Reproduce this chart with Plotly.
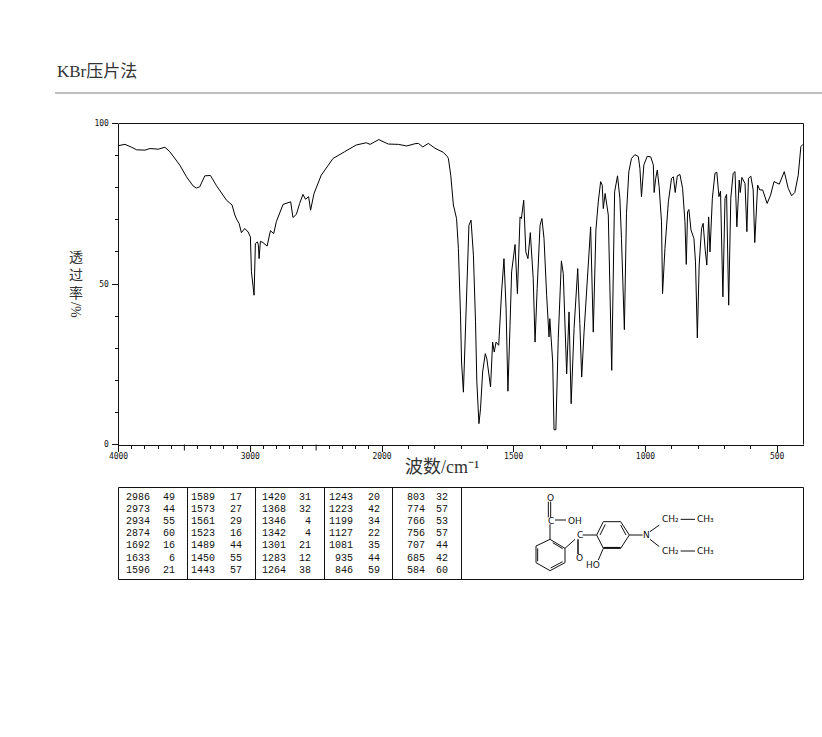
import plotly.graph_objects as go

W, H = 822, 737

# Spectrum, 4000-2000 cm-1 section
wn_high = [4001,3951,3900,3862,3799,3761,3698,3648,3610,3585,3534,3484,3433,3408,3383,3345,3302,3256,3218,3180,3138,3117,3100,3085,3067,3042,3016,2999,2991,2981,2971,2961,2946,2938,2933,2923,2903,2872,2847,2822,2802,2751,2693,2676,2650,2625,2600,2580,2557,2542,2516,2461,2372,2284,2196,2120,2090,2024,2000]
t_high = [93.1,93.5,92.6,91.8,91.7,92.2,92.0,92.6,91.2,89.7,87.0,83.4,80.5,79.9,80.3,83.7,83.8,80.6,78.5,76.1,74.6,71.5,69.9,68.9,66.0,67.3,66.2,64.7,53.8,50.6,46.5,62.6,63.1,62.1,57.9,63.3,62.9,61.8,66.6,65.7,69.4,74.8,75.6,70.7,71.7,75.1,77.9,76.4,77.2,73.0,78.2,83.9,89.1,91.2,93.3,94.0,93.5,95.0,94.5]

# Spectrum, 2000-400 cm-1 section
wn_low = [2000,1976,1938,1906,1875,1862,1845,1824,1799,1767,1752,1748,1739,1729,1717,1710,1702,1698,1691,1685,1679,1670,1662,1653,1645,1640,1632,1626,1618,1608,1602,1595,1588,1580,1574,1567,1557,1546,1537,1529,1522,1514,1508,1495,1486,1476,1471,1462,1454,1446,1437,1426,1419,1411,1400,1393,1385,1375,1366,1363,1352,1347,1340,1331,1319,1312,1299,1290,1282,1271,1257,1249,1242,1233,1223,1208,1198,1188,1179,1170,1164,1160,1153,1141,1128,1117,1106,1097,1091,1080,1072,1063,1053,1040,1027,1021,1015,1006,993,980,970,967,961,955,948,939,935,926,913,901,894,887,879,869,859,850,845,840,835,827,816,810,803,796,787,781,773,767,760,755,746,736,729,721,715,706,698,692,684,676,667,660,653,644,640,634,622,615,609,600,591,585,574,566,555,538,525,512,492,473,458,445,433,420,410,402]
t_low = [94.5,93.6,93.5,93.0,93.7,93.8,92.7,93.8,92.3,91.0,89.7,89.1,83.9,74.6,70.4,61.1,40.3,25.7,16.3,31.9,50.7,68.3,69.9,59.0,38.2,19.5,6.5,11.1,22.6,28.3,26.7,21.5,17.9,31.9,28.8,31.9,30.9,47.5,57.9,42.3,16.6,37.1,53.8,62.3,47.0,70.9,70.4,76.1,60.0,57.9,66.0,51.7,31.9,48.6,68.3,70.4,64.2,46.5,33.5,39.2,25.7,4.6,4.6,33.0,57.2,53.3,22.0,41.3,12.7,36.1,54.8,37.7,21.0,35.0,47.0,67.8,35.0,66.8,75.6,81.9,80.8,73.5,78.2,71.5,23.1,78.7,83.7,76.7,64.2,35.8,72.0,85.0,89.1,90.3,89.7,86.0,77.2,87.1,89.8,89.6,87.1,78.5,82.9,85.5,80.3,69.4,47.0,61.0,75.6,82.9,83.4,78.5,83.7,84.1,79.8,69.4,56.1,72.5,73.2,66.8,64.2,56.9,33.2,55.9,67.3,68.9,60.5,55.9,70.9,60.0,76.7,84.5,84.8,77.2,78.9,46.0,76.7,77.9,43.4,76.7,84.5,85.0,67.8,82.4,78.5,83.2,81.3,66.3,82.9,83.6,79.3,62.9,80.8,79.3,79.3,75.1,77.7,81.9,81.1,85.0,79.8,77.5,78.5,83.9,92.8,93.5]

# Axis ticks
x_ticks_high = [4000,3000]
x_labels_high = ["4000","3000"]
x_unlabelled_high = [3500,2500]
x_minor_high = [3900,3800,3700,3600,3400,3300,3200,3100,2900,2800,2700,2600,2400,2300,2200,2100]
x_ticks_low = [2000,1500,1000,500]
x_labels_low = ["2000","1500","1000","500"]
x_minor_low = [1900,1800,1700,1600,1400,1300,1200,1100,900,800,700,600]
y_ticks = [0,50,100]
y_minor = [10,20,30,40,60,70,80,90]

# Peak table (wavenumber, %T), column by column
peak_wn = [
    ["2986","2973","2934","2874","1692","1633","1596"],
    ["1589","1573","1561","1523","1489","1450","1443"],
    ["1420","1368","1346","1342","1301","1283","1264"],
    ["1243","1223","1199","1127","1081","935","846"],
    ["803","774","766","756","707","685","584"],
]
peak_t = [
    ["49","44","55","60","16","6","21"],
    ["17","27","29","16","44","55","57"],
    ["31","32","4","4","21","12","38"],
    ["20","42","34","22","35","44","59"],
    ["32","57","53","57","44","42","60"],
]

# Layout in page pixels
PL, PR, PT, PB, PM = 118.5, 803.5, 123.5, 444.5, 382.0
def fx(p): return p / W
def fy(p): return 1 - p / H

SERIF = "Liberation Serif, Noto Sans CJK SC, serif"
MONO = "Liberation Mono, DejaVu Sans Mono, monospace"
TICK = dict(family="DejaVu Sans Mono, monospace", size=8, color="#111")
INK = "#111"

fig = go.Figure()
fig.add_trace(go.Scatter(x=wn_high, y=t_high, mode="lines", xaxis="x", yaxis="y",
                         line=dict(color="black", width=1), showlegend=False))
fig.add_trace(go.Scatter(x=wn_low, y=t_low, mode="lines", xaxis="x2", yaxis="y",
                         line=dict(color="black", width=1), showlegend=False))

def xaxis(rng, dom, tv, tt, mv, anchor="y"):
    return dict(range=rng, domain=dom, anchor=anchor, tickmode="array", tickvals=tv, ticktext=tt,
                ticks="outside", ticklen=6, tickwidth=1, tickcolor=INK, tickfont=TICK,
                ticklabelstandoff=-2,
                showgrid=False, zeroline=False, showline=True, linecolor=INK, linewidth=1,
                automargin=False,
                minor=dict(tickmode="array", tickvals=mv, ticks="outside", ticklen=3, tickwidth=1,
                           tickcolor=INK, showgrid=False))

fig.update_layout(
    width=W, height=H, autosize=False,
    margin=dict(l=0, r=0, t=0, b=0, pad=0, autoexpand=False),
    paper_bgcolor="white", plot_bgcolor="white",
    showlegend=False,
    xaxis=xaxis([4000, 2000], [fx(PL), fx(PM)], x_ticks_high, x_labels_high, x_minor_high),
    xaxis2=xaxis([2000, 400], [fx(PM), fx(PR)], x_ticks_low, x_labels_low, x_minor_low),
    yaxis=dict(range=[0, 100], domain=[fy(PB), fy(PT)], anchor="x", tickmode="array",
               tickvals=y_ticks, ticktext=[str(v) for v in y_ticks], ticks="outside", ticklen=6,
               ticklabelstandoff=1,
               tickwidth=1, tickcolor=INK, tickfont=TICK, showgrid=False, zeroline=False,
               showline=True, linecolor=INK, linewidth=1, automargin=False,
               minor=dict(tickmode="array", tickvals=y_minor, ticks="outside", ticklen=3,
                          tickwidth=1, tickcolor=INK, showgrid=False)),
)

shapes, notes = [], []
def seg(x0, y0, x1, y1, color=INK, width=1):
    shapes.append(dict(type="line", xref="paper", yref="paper", x0=fx(x0), y0=fy(y0),
                       x1=fx(x1), y1=fy(y1), line=dict(color=color, width=width)))
def text(x, y, s, size=10, family=MONO, anchor="center", color=INK, angle=0):
    notes.append(dict(xref="paper", yref="paper", x=fx(x), y=fy(y), text=s, showarrow=False,
                      xanchor=anchor, yanchor="middle", textangle=angle,
                      font=dict(family=family, size=size, color=color)))

# Longer unlabelled ticks, placed through the x scale
for v in x_unlabelled_high:
    shapes.append(dict(type="line", xref="x", yref="paper", x0=v, x1=v, y0=fy(PB), y1=fy(PB + 6),
                       line=dict(color=INK, width=1)))

# Header
text(55, 71, "KBr压片法", size=17, family=SERIF, anchor="left", color="#333")
seg(55, 93, 822, 93, color="#aaaaaa", width=1.5)

# Plot frame top and right
seg(PL, PT, PR, PT)
seg(PR, PT, PR, PB)

# Axis titles
text(442, 467, "波数/cm⁻¹", size=18, family=SERIF, color="#333")
text(76, 275, "透<br>过<br>率", size=14, family=SERIF, color="#333")
text(76, 310, "/%", size=14, family=SERIF, color="#333", angle=90)

# Table frame
TL, TR, TT, TB = 118.5, 803.5, 487.5, 579.5
for a, b, c, d in [(TL,TT,TR,TT),(TL,TB,TR,TB),(TL,TT,TL,TB),(TR,TT,TR,TB)]:
    seg(a, b, c, d)
for xs in [187.5, 255.5, 324.5, 392.5, 461.5]:
    seg(xs, TT, xs, TB)
col_wn = [152, 217, 288, 355, 427]
col_t = [177, 244, 313, 382, 450]
rows = [497, 509, 521, 533, 545, 558, 570]
for c in range(5):
    for r, y in enumerate(rows):
        text(col_wn[c], y, peak_wn[c][r], size=10, anchor="right")
        text(col_t[c], y, peak_t[c][r], size=10, anchor="right")

# Structure drawing (page pixels derived from the reference crop)
def Z(p): return (460 + p[0] / 3, 480 + p[1] / 3)
def bond(a, b, width=1):
    (x0, y0), (x1, y1) = Z(a), Z(b)
    seg(x0, y0, x1, y1, width=width)
def label(p, s, size=10):
    x, y = Z(p)
    text(x, y, s, size=size, family="DejaVu Sans, sans-serif")

bond((265,65),(265,112)); bond((272,65),(272,112))
bond((285,120),(318,120))
bond((270,133),(270,178))
ring1 = [(270,178),(315,205),(315,248),(270,272),(228,248),(228,198)]
for i in range(6):
    bond(ring1[i], ring1[(i+1)%6])
bond((278,188),(308,206)); bond((308,245),(272,264)); bond((233,205),(233,244))
bond((315,205),(345,178))
bond((354,178),(354,222), 1.5)
bond((368,165),(410,165))
ring2 = [(410,165),(430,125),(482,125),(508,165),(482,205),(430,205)]
for i in range(6):
    bond(ring2[i], ring2[(i+1)%6])
bond((420,165),(436,133)); bond((482,135),(498,165)); bond((430,203),(482,203), 1.5)
bond((430,205),(415,240))
bond((508,165),(548,165))
bond((570,155),(598,135)); bond((570,178),(598,200))
bond((662,118),(705,118)); bond((662,213),(705,213))
label((272,55), "O", 9); label((272,122), "C", 9); label((345,122), "OH", 9)
label((360,165), "C", 9); label((358,233), "O", 9); label((398,255), "HO", 9)
label((558,165), "N", 9)
label((632,118), "CH₂", 9); label((735,118), "CH₃", 9)
label((632,213), "CH₂", 9); label((735,213), "CH₃", 9)

fig.update_layout(shapes=shapes, annotations=notes)
fig.write_html("out.html", config={"displayModeBar": False},
               post_script="document.body.style.margin='0';")
